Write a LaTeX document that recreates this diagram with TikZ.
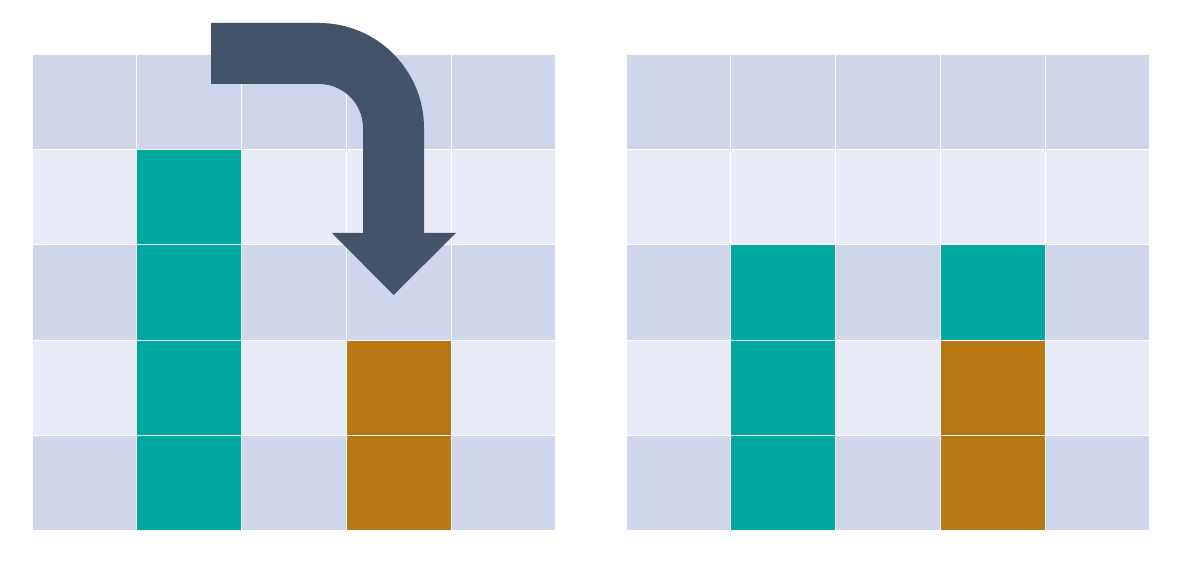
\documentclass[tikz,border=0pt]{standalone}
\usepackage{tikz}

\definecolor{rowdark}{HTML}{CFD5EA}
\definecolor{rowlight}{HTML}{E8EBF5}
\definecolor{tealcell}{HTML}{00A8A0}
\definecolor{ochrecell}{HTML}{B87713}
\definecolor{slatearrow}{HTML}{435369}

\begin{document}
\begin{tikzpicture}[
          x=1pt, y=-1pt,
          cell/.style={draw=white, line width=1.2pt},
          turnarrow/.style={fill=slatearrow, draw=none}
        ]
          \useasboundingbox (0,0) rectangle (1177,561);
          % two 5x5 boards, rows alternate in shade
          \foreach \gx in {32,626}{
            \foreach \r in {0,...,4}{
              \foreach \c in {0,...,4}{
                \ifodd\r
                  \filldraw[cell, fill=rowlight] ({\gx+\c*104.8},{54+\r*95.4}) rectangle ++(104.8,95.4);
                \else
                  \filldraw[cell, fill=rowdark] ({\gx+\c*104.8},{54+\r*95.4}) rectangle ++(104.8,95.4);
                \fi
              }
            }
          }
          % left board
          \foreach \r in {1,...,4}
            \filldraw[cell, fill=tealcell] ({32+104.8},{54+\r*95.4}) rectangle ++(104.8,95.4);
          \foreach \r in {3,4}
            \filldraw[cell, fill=ochrecell] ({32+3*104.8},{54+\r*95.4}) rectangle ++(104.8,95.4);
          % right board
          \foreach \r in {2,3,4}
            \filldraw[cell, fill=tealcell] ({626+104.8},{54+\r*95.4}) rectangle ++(104.8,95.4);
          \filldraw[cell, fill=tealcell] ({626+3*104.8},{54+2*95.4}) rectangle ++(104.8,95.4);
          \foreach \r in {3,4}
            \filldraw[cell, fill=ochrecell] ({626+3*104.8},{54+\r*95.4}) rectangle ++(104.8,95.4);
          % the bent arrow
          \path[turnarrow] (211,23) -- (319,23)
            arc[start angle=270, end angle=360, radius=105]
            -- (424,233) -- (456,233) -- (393.5,295) -- (332,233) -- (363,233)
            -- (363,128) arc[start angle=360, end angle=270, radius=44]
            -- (211,84) -- cycle;
        \end{tikzpicture}
\end{document}
